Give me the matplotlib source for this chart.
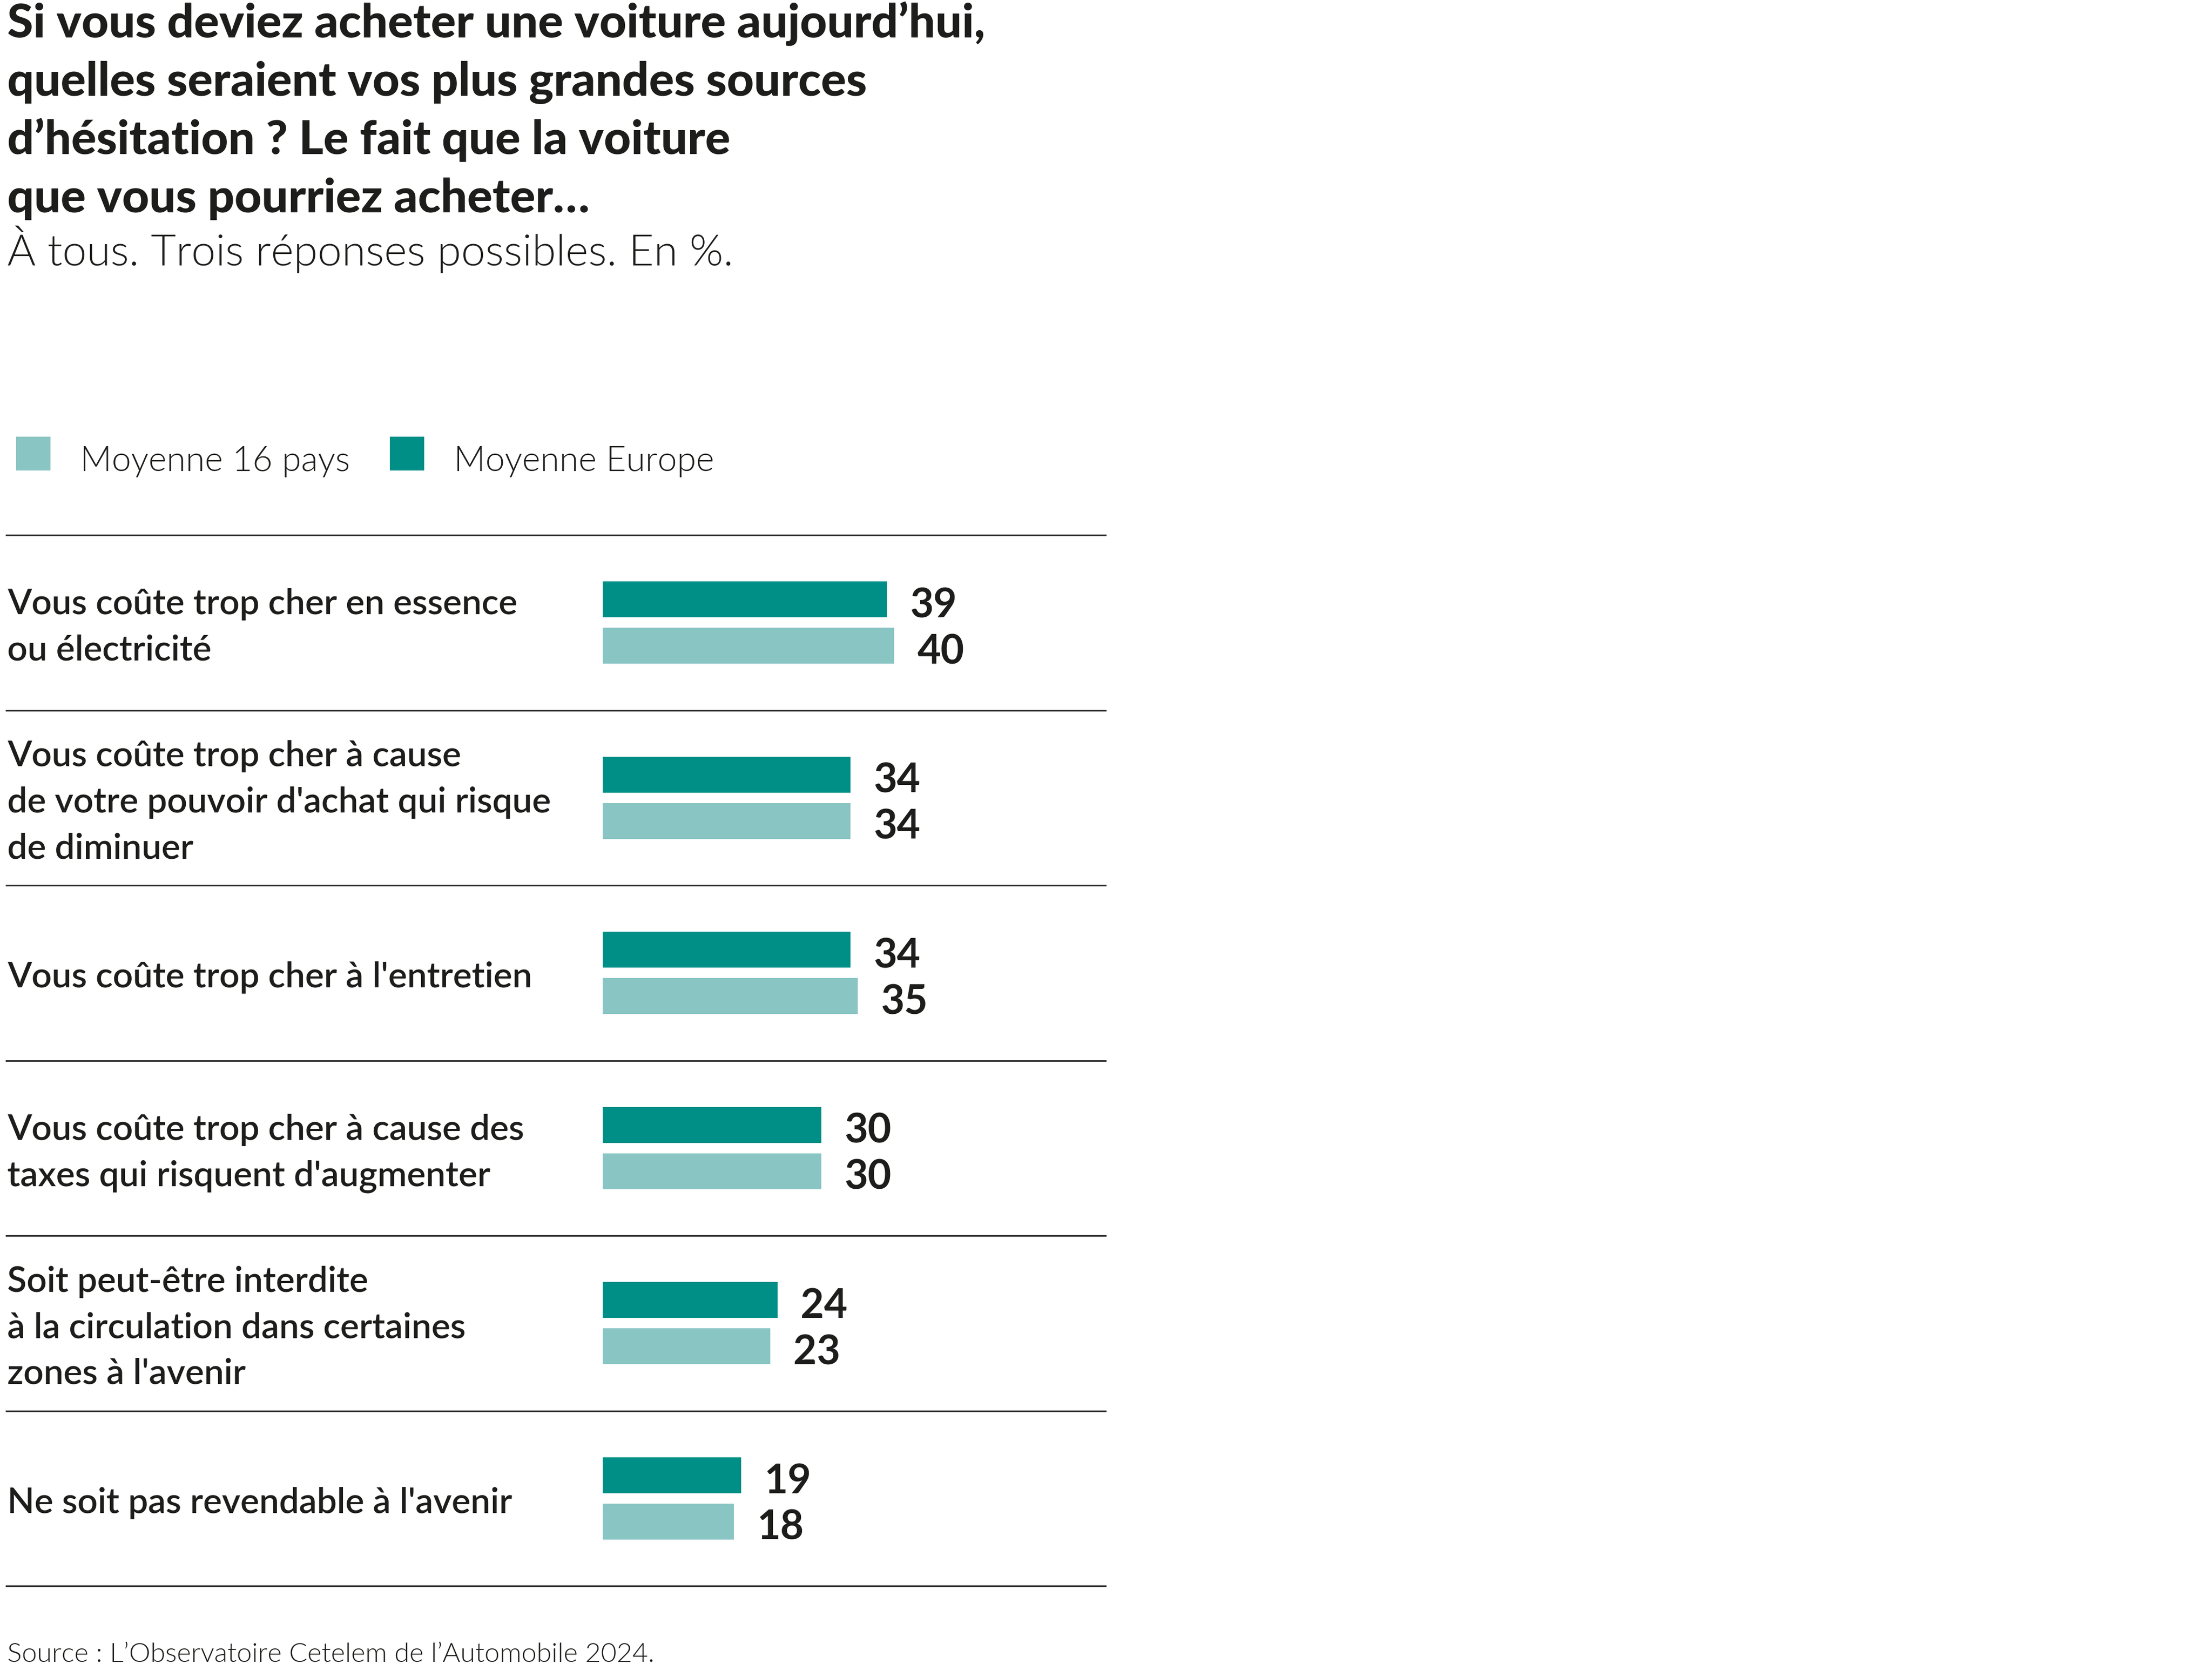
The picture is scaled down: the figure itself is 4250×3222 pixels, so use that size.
import matplotlib
matplotlib.use("Agg")
import matplotlib.pyplot as plt
from matplotlib import transforms
from matplotlib.patches import Rectangle
import numpy as np

# taille de la figure en pixels
W, H = 4250, 3222
DPI = 100

# données
categories = [
    "Vous coûte trop cher en essence\nou électricité",
    "Vous coûte trop cher à cause\nde votre pouvoir d'achat qui risque\nde diminuer",
    "Vous coûte trop cher à l'entretien",
    "Vous coûte trop cher à cause des\ntaxes qui risquent d'augmenter",
    "Soit peut-être interdite\nà la circulation dans certaines\nzones à l'avenir",
    "Ne soit pas revendable à l'avenir",
]
europe = [39, 34, 34, 30, 24, 19]
pays16 = [40, 34, 35, 30, 23, 18]

title_lines = [
    "Si vous deviez acheter une voiture aujourd’hui,",
    "quelles seraient vos plus grandes sources",
    "d’hésitation ? Le fait que la voiture",
    "que vous pourriez acheter…",
]
subtitle = "À tous. Trois réponses possibles. En %."
legend_labels = ["Moyenne 16 pays", "Moyenne Europe"]
source = "Source : L’Observatoire Cetelem de l’Automobile 2024."

DARK = "#008f87"
LIGHT = "#89c5c3"
INK = "#1d1d1b"
RULE = "#333333"

FONT = ["Lato", "DejaVu Sans"]


def fx(px):
    return px / W


def fy(py):
    # py compté depuis le haut de l'image
    return 1 - py / H


fig = plt.figure(figsize=(W / DPI, H / DPI), dpi=DPI)
fig.patch.set_facecolor("white")

# titre, ligne par ligne
for i, line in enumerate(title_lines):
    fig.text(fx(14), fy(72 + i * 112), line, family=FONT, weight=900,
             size=65, color=INK, va="baseline", ha="left")

fig.text(fx(14), fy(510), subtitle, family=FONT, weight=300,
         size=60, color=INK, va="baseline")

# légende
leg_x = [(31, 154), (749, 872)]
for (sq, tx), lab, col in zip(leg_x, legend_labels, [LIGHT, DARK]):
    fig.add_artist(Rectangle((fx(sq), fy(904)), 66 / W, 65 / H,
                             transform=fig.transFigure, color=col, lw=0))
    fig.text(fx(tx), fy(905), lab, family=FONT, weight=300, size=48,
             color=INK, va="baseline")

# graphique : une ligne de séparation tous les 336.5 px
top, bottom = 1028, 3047
row_px = (bottom - top) / len(categories)
ax = fig.add_axes([fx(12), fy(bottom), (2124 - 12) / W, (bottom - top) / H])
px_unit = 14
ax.set_xlim(-(1158 - 12) / px_unit, (2124 - 1158) / px_unit)
ax.set_ylim(len(categories) - 0.5, -0.5)
ax.axis("off")

y = np.arange(len(categories))
off, bh = 0.132, 0.205
ax.barh(y - off, europe, height=bh, color=DARK)
ax.barh(y + off, pays16, height=bh, color=LIGHT)

for k in range(len(categories) + 1):
    ax.axhline(k - 0.5, color=RULE, lw=2.2, clip_on=False)

for yy, v in zip(y - off, europe):
    ax.annotate(str(v), (v, yy + bh / 2), xytext=(32, 0), textcoords="offset points",
                va="baseline", ha="left", family=FONT, weight=700,
                size=56, color=INK)
for yy, v in zip(y + off, pays16):
    ax.annotate(str(v), (v, yy + bh / 2), xytext=(32, 0), textcoords="offset points",
                va="baseline", ha="left", family=FONT, weight=700,
                size=56, color=INK)

# libellés : chaque ligne placée à la main (interligne 88.5 px)
trans = transforms.blended_transform_factory(fig.transFigure, ax.transData)
pitch = 88.5 / row_px
base_shift = 28 / row_px
for yy, lab in zip(y, categories):
    lines = lab.split("\n")
    n = len(lines)
    for k, line in enumerate(lines):
        ax.text(fx(14), yy + base_shift + (k - (n - 1) / 2) * pitch, line,
                transform=trans, va="baseline", ha="left",
                family=FONT, weight=600, size=49, color=INK)

fig.text(fx(14), fy(3193), source, family=FONT, weight=300, size=37.5,
         color=INK, va="baseline")

fig.savefig("out.png", dpi=DPI)
